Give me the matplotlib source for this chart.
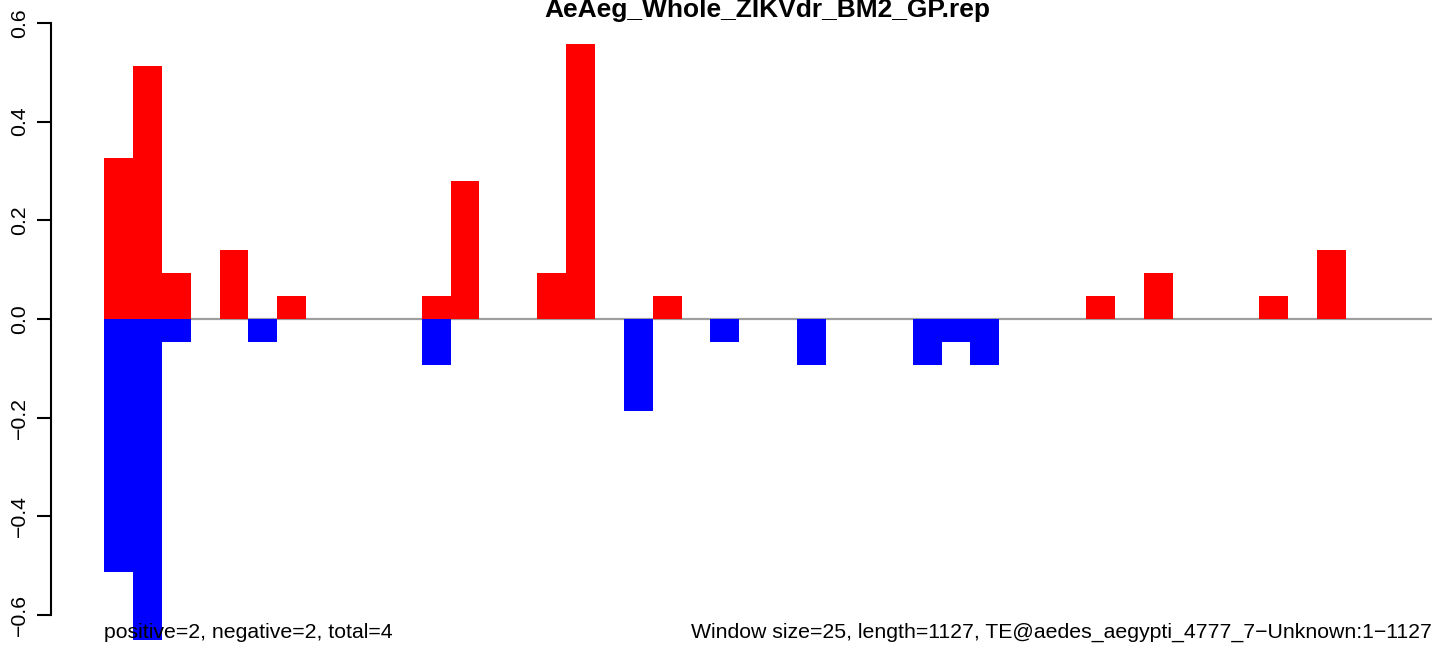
import numpy as np
import matplotlib
matplotlib.use("Agg")
import matplotlib.pyplot as plt

# window index -> normalised count
pos_windows = [0, 1, 2, 4, 6, 11, 12, 15, 16, 19, 34, 36, 40, 42]
pos_values = [0.326, 0.512, 0.093, 0.140, 0.047, 0.047, 0.279, 0.093, 0.558,
              0.047, 0.047, 0.093, 0.047, 0.140]
neg_windows = [0, 1, 2, 5, 11, 18, 21, 24, 28, 29, 30]
neg_values = [-0.512, -0.651, -0.047, -0.047, -0.093, -0.186, -0.047, -0.093,
              -0.093, -0.047, -0.093]
n_windows = 46
yticks = [-0.6, -0.4, -0.2, 0.0, 0.2, 0.4, 0.6]

title = "AeAeg_Whole_ZIKVdr_BM2_GP.rep"
left_note = "positive=2, negative=2, total=4"
right_note = "Window size=25, length=1127, TE@aedes_aegypti_4777_7\u2212Unknown:1\u22121127"

plt.rcParams['font.family'] = ['Liberation Sans', 'DejaVu Sans']

W, H = 1433, 645
fig = plt.figure(figsize=(W / 100, H / 100), dpi=100)
ax = fig.add_axes([0, 0, 1, 1])

# pixel mapping: x = 104 + 28.88*i, y = 319 - 493.3*v
xw = 28.88
x0 = 104
yz, ys = 319, 493.3
ax.set_xlim(-x0 / xw, (W - x0) / xw)
ax.set_ylim(-(H - yz) / ys, yz / ys)

ax.hlines(0, 0, n_windows, color='#9e9e9e', lw=1.6, zorder=1)
ax.bar(pos_windows, pos_values, width=1, align='edge', color='#ff0000',
       lw=0, zorder=2)
ax.bar(neg_windows, neg_values, width=1, align='edge', color='#0000ff',
       lw=0, zorder=2)

for s in ['top', 'right', 'bottom']:
    ax.spines[s].set_visible(False)
ax.spines['left'].set_position(('data', (51 - x0) / xw))
ax.spines['left'].set_bounds(-0.6, 0.6)
ax.spines['left'].set_linewidth(1.5)
ax.set_xticks([])
ax.set_yticks(yticks)
ax.set_yticklabels([f"{v:.1f}".replace('-', '\u2212') for v in yticks],
                   rotation=90, va='center', fontsize=15.3)
ax.tick_params(axis='y', length=10, width=1.5, pad=6)

fig.text(767 / W, 1 - 17 / H, title, ha='center', va='baseline',
         fontsize=19, fontweight='bold')
fig.text(x0 / W, 1 - 638 / H, left_note, ha='left', va='baseline', fontsize=15.3)
fig.text(1432 / W, 1 - 638 / H, right_note, ha='right', va='baseline',
         fontsize=15.3)

fig.savefig("out.png", dpi=100)
